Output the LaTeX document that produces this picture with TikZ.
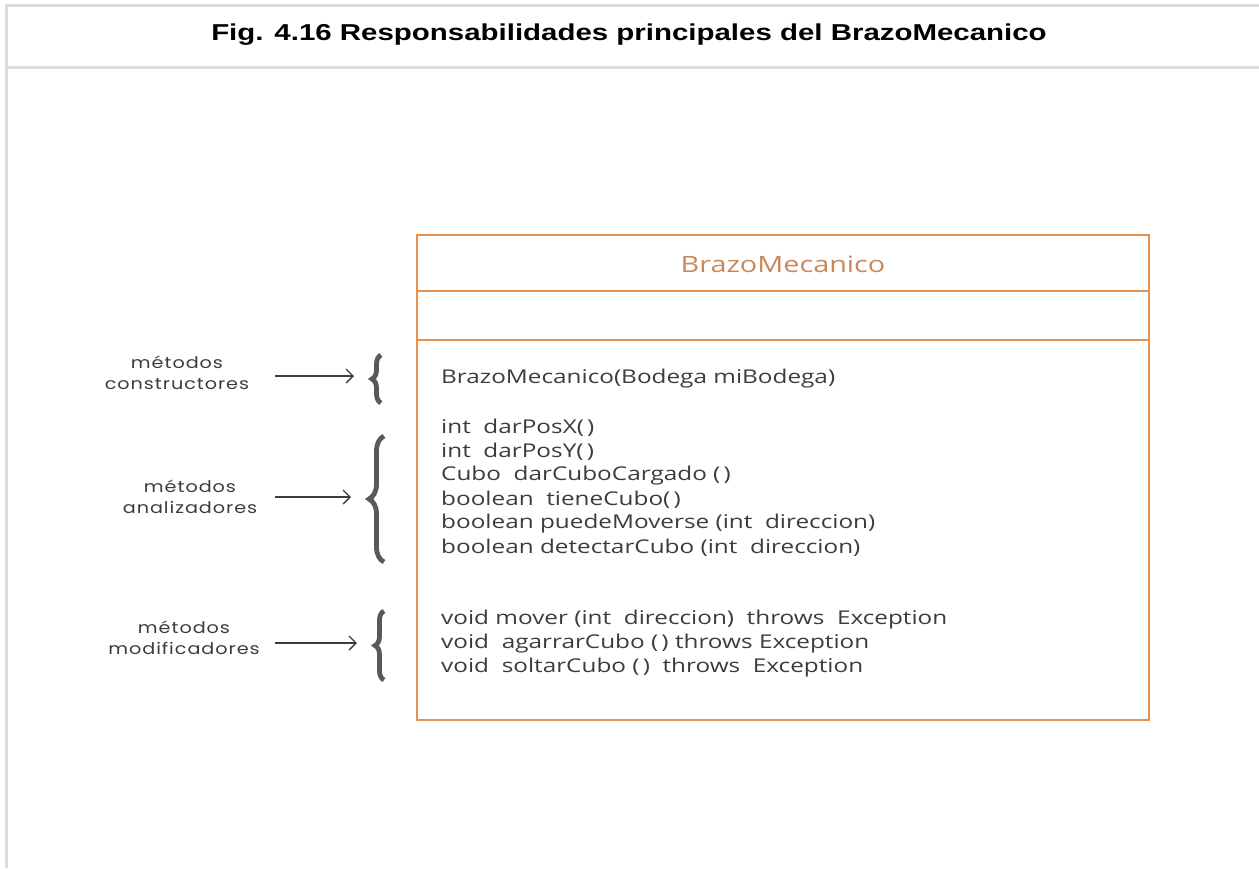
\documentclass[tikz,border=0pt]{standalone}
\usepackage{fontspec}
\setmainfont[FakeStretch=1.28]{Open Sans}
\newfontfamily\titulofont[FakeStretch=1.28]{Liberation Sans}
\newfontfamily\manofont[FakeStretch=1.2, LetterSpace=6]{Poppins}
\usepackage{xcolor}
\usetikzlibrary{arrows.meta, positioning, calc, decorations.pathreplacing}
\definecolor{marcogris}{HTML}{DCDCDC}
\definecolor{umlnaranja}{HTML}{E8914F}
\definecolor{nombrenaranja}{HTML}{C8875A}
\definecolor{textogris}{HTML}{3C3C3C}
\definecolor{llavegris}{HTML}{595959}

\tikzset{
  metodo/.style={anchor=west, inner sep=0pt, text=textogris,
                 font=\fontsize{19}{19}\selectfont},
  grupo/.style={align=center, inner sep=0pt, text=textogris,
                font=\manofont\fontsize{16}{21}\selectfont},
  flecha/.style={-{Straight Barb[length=7pt,width=14pt]}, line width=1.3pt, textogris},
  llave/.style={decorate, decoration={brace, amplitude=#1}, line width=4.8pt,
                llavegris},
}

\begin{document}
\begin{tikzpicture}[x=1pt, y=-1pt]
  \useasboundingbox (0,0) rectangle (1259,868);
  %% frame of the figure
  \draw[marcogris, line width=3pt] (6,868) -- (6,5) -- (1259,5);
  \draw[marcogris, line width=3pt] (6,67) -- (1259,67);
  \node[font=\titulofont\bfseries\fontsize{23}{23}\selectfont] (titulo) at (629,35)
    {Fig. 4.16 Responsabilidades principales del BrazoMecanico};

  %% class box
  \draw[umlnaranja, line width=1.8pt] (417,235) rectangle (1149,720);
  \draw[umlnaranja, line width=1.8pt] (417,291) -- (1149,291);
  \draw[umlnaranja, line width=1.8pt] (417,340) -- (1149,340);
  \node[text=nombrenaranja, font=\fontsize{22.5}{22.5}\selectfont] (clase) at (783,264) {BrazoMecanico};

  %% methods, one per line
  \node[metodo] (m0) at (441,379) {BrazoMecanico(Bodega miBodega)};
  \foreach \i/\y/\txt in {
      1/428/{int\ \ darPosX(\,)},
      2/452/{int\ \ darPosY(\,)},
      3/476/{Cubo\ \ darCuboCargado (\,)},
      4/500/{boolean\ \ tieneCubo(\,)},
      5/524/{boolean puedeMoverse (int\ \ direccion)},
      6/548/{boolean detectarCubo (int\ \ direccion)},
      7/620/{void mover (int\ \ direccion)\ \ throws\ \ Exception},
      8/644/{void\ \ agarrarCubo (\,) throws Exception},
      9/668/{void\ \ soltarCubo (\,)\ \ throws\ \ Exception}} {
    \node[metodo] (m\i) at (441,\y) {\txt};
  }

  %% braces
  \draw[llave=9pt]  (381,403) -- (381,355) coordinate[midway] (lla);
  \draw[llave=15pt] (384,562) -- (384,436) coordinate[midway] (llb);
  \draw[llave=9pt]  (384,680) -- (384,611) coordinate[midway] (llc);
  \coordinate (pa) at ($(lla)+(-27,0)$);
  \coordinate (pb) at ($(llb)+(-33,0)$);
  \coordinate (pc) at ($(llc)+(-27,0)$);

  %% group labels and arrows
  \node[grupo] (gcons) at (177,373) {métodos\\constructores};
  \node[grupo] (ganal) at (190,497) {métodos\\analizadores};
  \node[grupo] (gmod)  at (184,638) {métodos\\modificadores};
  \coordinate (fa) at (275,376);
  \coordinate (fb) at (275,497);
  \coordinate (fc) at (275,643);
  \draw[flecha] (fa) -- (fa -| pa);
  \draw[flecha] (fb) -- (fb -| pb);
  \draw[flecha] (fc) -- (fc -| pc);
\end{tikzpicture}
\end{document}
